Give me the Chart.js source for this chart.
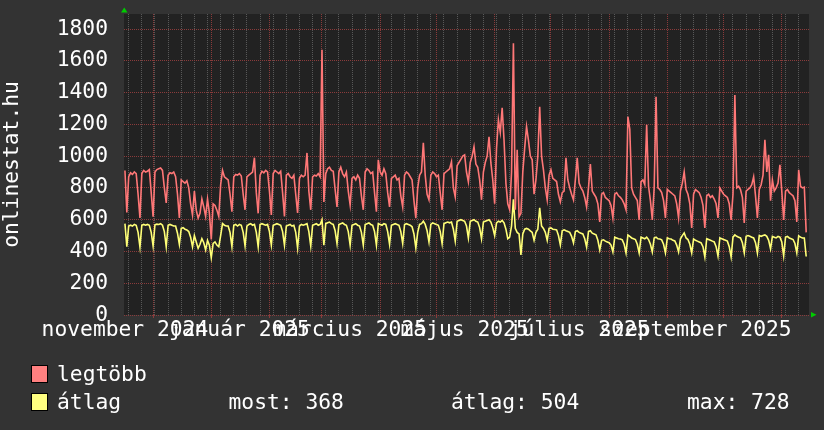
<!DOCTYPE html>
<html>
<head>
<meta charset="utf-8">
<script src="https://cdn.jsdelivr.net/npm/chart.js@4.4.1/dist/chart.umd.min.js"></script>
<style>
  html, body { margin: 0; padding: 0; background: #333333; }
  #wrap { width: 824px; height: 430px; }
</style>
</head>
<body>
<div id="wrap"><canvas id="c" width="824" height="430"></canvas></div>
<script>
// ---- data (day index relative to 2024-12-01; first point = 2024-11-16) ----
const startDay = -15;
const legtobb = [910, 645,
 870, 895, 885, 900, 890, 760, 611,
 890, 910, 900, 905, 915, 770, 619,
 900, 915, 920, 925, 910, 800, 706,
 880, 895, 890, 900, 870, 760, 611,
 850, 840, 830, 845, 800, 700, 630,
 780, 660, 610, 640, 730, 680, 620,
 730, 640, 475, 700, 690, 660, 620,
 820, 910, 870, 860, 850, 760, 650,
 870, 885, 880, 890, 875, 760, 662,
 870, 880, 890, 900, 990, 770, 640,
 880, 905, 895, 910, 900, 780, 630,
 890, 910, 900, 890, 905, 770, 620,
 880, 890, 870, 860, 880, 760, 642,
 860, 880, 870, 880, 1020, 780, 662,
 870, 880, 875, 890, 870, 1670, 712,
 890, 920, 930, 910, 905, 790, 680,
 900, 930, 890, 870, 900, 780, 693,
 860, 870, 850, 880, 860, 750, 662,
 900, 920, 910, 890, 900, 770, 650,
 977, 900, 880, 920, 890, 770, 680,
 860, 870, 880, 850, 860, 750, 680,
 880, 900, 890, 870, 850, 720, 610,
 800, 880, 900, 1084, 880, 760, 725,
 880, 900, 890, 870, 880, 770, 662,
 890, 900, 910, 920, 964, 800, 743,
 940, 960, 980, 1000, 1008, 900, 838,
 960, 1000, 1059, 950, 930, 850, 725,
 900, 960, 1000, 1122, 957, 850, 700,
 1050, 1229, 1150, 1304, 1100, 830, 700,
 662, 900, 1710, 662, 1040, 618, 640,
 900, 1050, 1185, 1100, 1000, 977, 760,
 850, 1000, 1311, 1000, 914, 800, 725,
 880, 914, 860, 850, 840, 760, 712,
 770, 780, 989, 850, 800, 760, 725,
 850, 989, 830, 800, 780, 740, 680,
 800, 950, 780, 760, 740, 700, 586,
 760, 770, 740, 730, 720, 690, 611,
 760, 770, 750, 740, 725, 700, 662,
 1248, 1170, 800, 760, 740, 720, 599,
 840, 850, 820, 1197, 810, 720, 599,
 800, 1374, 800, 790, 770, 720, 611,
 790, 780, 770, 760, 750, 700, 611,
 780, 830, 901, 790, 760, 700, 548,
 760, 790, 780, 770, 740, 690, 548,
 750, 760, 740, 750, 730, 700, 611,
 800, 780, 760, 750, 740, 700, 599,
 760, 1385, 800, 810, 790, 740, 580,
 780, 790, 800, 820, 870, 750, 611,
 790, 820, 880, 1103, 900, 1008, 720,
 850, 780, 800, 830, 945, 780, 599,
 780, 790, 770, 760, 750, 720, 586,
 914, 810, 800, 805, 520];

const atlag = [575, 430,
 560, 565, 560, 570, 565, 520, 428,
 565, 570, 565, 570, 565, 520, 435,
 568, 572, 570, 575, 565, 525, 430,
 565, 570, 565, 560, 560, 515, 445,
 545, 550, 540, 535, 525, 490, 430,
 500, 460, 420, 445, 480, 455, 410,
 470, 440, 360, 450, 460, 440, 430,
 500, 575, 565, 560, 560, 520, 430,
 565, 570, 560, 570, 565, 520, 435,
 560, 570, 575, 565, 570, 520, 430,
 570, 575, 570, 565, 570, 525, 440,
 565, 570, 575, 570, 565, 525, 440,
 560, 565, 570, 560, 565, 520, 422,
 560, 570, 565, 570, 575, 525, 435,
 565, 570, 575, 565, 570, 599, 440,
 575, 580, 585, 575, 570, 530, 450,
 570, 575, 580, 570, 565, 525, 440,
 565, 570, 575, 565, 560, 520, 440,
 570, 575, 580, 570, 565, 525, 440,
 575, 570, 565, 575, 570, 525, 445,
 565, 570, 575, 570, 565, 525, 450,
 570, 575, 570, 565, 555, 510, 422,
 520, 570, 575, 590, 570, 530, 460,
 570, 580, 575, 570, 565, 525, 450,
 575, 580, 585, 580, 585, 540, 465,
 590, 595, 600, 595, 590, 560, 485,
 590, 595, 600, 590, 585, 550, 480,
 585, 590, 595, 600, 585, 550, 500,
 580, 590, 585, 595, 580, 540, 480,
 490, 560, 728, 545, 520, 510, 378,
 510, 540, 545, 540, 530, 520, 470,
 520, 540, 674, 560, 545, 520, 470,
 545, 548, 540, 538, 536, 500, 441,
 530, 536, 530, 525, 520, 495, 454,
 525, 530, 520, 515, 510, 480, 428,
 525, 530, 515, 510, 505, 470, 410,
 470, 473, 465, 460, 455, 440, 397,
 490, 485, 480, 478, 473, 445, 391,
 504, 495, 485, 480, 475, 445, 391,
 490, 485, 480, 490, 475, 445, 397,
 485, 490, 480, 478, 473, 445, 391,
 485, 480, 478, 470, 466, 440, 397,
 480, 500, 517, 485, 475, 445, 391,
 479, 470, 465, 460, 454, 430, 365,
 480, 475, 470, 465, 460, 430, 372,
 485, 480, 475, 470, 465, 430, 365,
 490, 504, 495, 490, 485, 455, 391,
 495, 500, 495, 490, 485, 455, 391,
 500, 495, 500, 504, 495, 470, 416,
 495, 490, 485, 495, 490, 460, 372,
 490, 495, 485, 480, 475, 450, 391,
 498, 490, 485, 485, 368];

// x-axis: month starts (major grid), label anchors and texts
const monthStarts = [0, 31, 62, 90, 121, 151, 182, 212, 243, 274, 304, 335];
const labelDays = [-15, 46, 105, 166, 227, 289];
const monthLabels = ['november 2024', 'január 2025', 'március 2025', 'május 2025', 'július 2025', 'szeptember 2025'];
const firstMonday = -13;
// y-axis ticks
const yTickValues = [0, 100, 200, 300, 400, 500, 600, 700, 800, 900, 1000, 1100, 1200, 1300, 1400, 1500, 1600, 1700, 1800];
const yLabelValues = [0, 200, 400, 600, 800, 1000, 1200, 1400, 1600, 1800];
const yTitle = 'onlinestat.hu';
// legend
const seriesNames = ['legtöbb', 'átlag'];
const statLabels = ['most: 368', 'átlag: 504', 'max: 728'];

// ---- styling ----
const FONT = "'DejaVu Sans Mono', monospace";
const FS = 21.3;
const RED_LINE = '#ff7777';
const YEL_LINE = '#ffff77';
const MGRID = '#8a3b3b';
const GRID = '#585858';

const weekLines = [];
for (let d = firstMonday; d <= 349; d += 7) weekLines.push(d);
const xTickValues = Array.from(new Set([...weekLines, ...monthStarts, ...labelDays])).sort((a, b) => a - b);

const toPts = arr => arr.map((v, i) => ({ x: startDay + i, y: v }));

const bgPlugin = {
  id: 'bg',
  beforeDraw(chart) {
    const { ctx, chartArea: a } = chart;
    ctx.save();
    ctx.fillStyle = '#333333';
    ctx.fillRect(0, 0, chart.width, chart.height);
    ctx.fillStyle = '#222222';
    ctx.fillRect(a.left, a.top, a.right - a.left, a.bottom - a.top);
    ctx.restore();
  },
  afterDraw(chart) {
    const { ctx, chartArea: a } = chart;
    ctx.save();
    // arrows
    ctx.fillStyle = '#00cc00';
    ctx.beginPath();
    ctx.moveTo(a.left - 3, a.top - 1.5);
    ctx.lineTo(a.left + 3.5, a.top - 1.5);
    ctx.lineTo(a.left + 0.25, a.top - 6.5);
    ctx.closePath(); ctx.fill();
    ctx.beginPath();
    ctx.moveTo(a.right + 2, a.bottom - 3);
    ctx.lineTo(a.right + 2, a.bottom + 2.5);
    ctx.lineTo(a.right + 7.5, a.bottom - 0.25);
    ctx.closePath(); ctx.fill();
    // legend
    const boxes = [[RED_LINE, 366], [YEL_LINE, 394]];
    const fills = ['#ff8080', '#ffff80'];
    boxes.forEach((b, i) => {
      ctx.fillStyle = fills[i];
      ctx.fillRect(32, b[1], 15, 16);
      ctx.strokeStyle = '#000000';
      ctx.lineWidth = 1;
      ctx.strokeRect(31.5, b[1] - 0.5, 16, 17);
    });
    ctx.fillStyle = '#ffffff';
    ctx.font = FS + 'px ' + FONT;
    ctx.textBaseline = 'alphabetic';
    ctx.textAlign = 'left';
    ctx.fillText(seriesNames[0], 57, 380.5);
    ctx.fillText(seriesNames[1], 57, 408.5);
    ctx.fillText(statLabels[0], 228.5, 408.5);
    ctx.fillText(statLabels[1], 451, 408.5);
    ctx.fillText(statLabels[2], 687, 408.5);
    ctx.restore();
  }
};

new Chart(document.getElementById('c'), {
  type: 'line',
  data: {
    datasets: [
      { label: seriesNames[0], data: toPts(legtobb), borderColor: RED_LINE, borderWidth: 1.6, pointRadius: 0, tension: 0, fill: false },
      { label: seriesNames[1], data: toPts(atlag), borderColor: YEL_LINE, borderWidth: 1.6, pointRadius: 0, tension: 0, fill: false }
    ]
  },
  options: {
    responsive: false,
    animation: false,
    devicePixelRatio: 1,
    layout: { padding: { left: 0, top: 14, right: 15, bottom: 0 } },
    plugins: { legend: { display: false }, tooltip: { enabled: false } },
    scales: {
      x: {
        type: 'linear',
        min: -15.5,
        max: 349.5,
        afterBuildTicks: s => { s.ticks = xTickValues.map(v => ({ value: v })); },
        afterFit: s => { s.height = 115; s.paddingLeft = 0; s.paddingRight = 0; },
        ticks: {
          autoSkip: false, maxRotation: 0, minRotation: 0, padding: 0,
          color: '#ffffff', font: { family: FONT, size: FS },
          callback: v => { const i = labelDays.indexOf(v); return i >= 0 ? monthLabels[i] : ''; }
        },
        grid: {
          drawTicks: true, tickLength: 3, lineWidth: 1,
          color: c => monthStarts.includes(c.tick.value) ? MGRID : (weekLines.includes(c.tick.value) ? GRID : 'rgba(0,0,0,0)'),
          tickColor: c => monthStarts.includes(c.tick.value) ? MGRID : 'rgba(0,0,0,0)'
        },
        border: { display: false, dash: [1, 1] }
      },
      y: {
        type: 'linear',
        min: 0,
        max: 1894.5,
        afterBuildTicks: s => { s.ticks = yTickValues.map(v => ({ value: v })); },
        afterFit: s => { s.width = 124; s.paddingTop = 0; s.paddingBottom = 0; },
        ticks: {
          padding: 16, color: '#ffffff', font: { family: FONT, size: FS },
          callback: v => yLabelValues.includes(v) ? String(v) : ''
        },
        grid: {
          drawTicks: false, lineWidth: 1,
          color: c => yLabelValues.includes(c.tick.value) ? MGRID : GRID
        },
        border: { display: false, dash: [1, 1] },
        title: { display: true, text: yTitle, color: '#ffffff', font: { family: FONT, size: FS }, padding: { top: 0, bottom: 0 } }
      }
    }
  },
  plugins: [bgPlugin]
});
</script>
</body>
</html>
